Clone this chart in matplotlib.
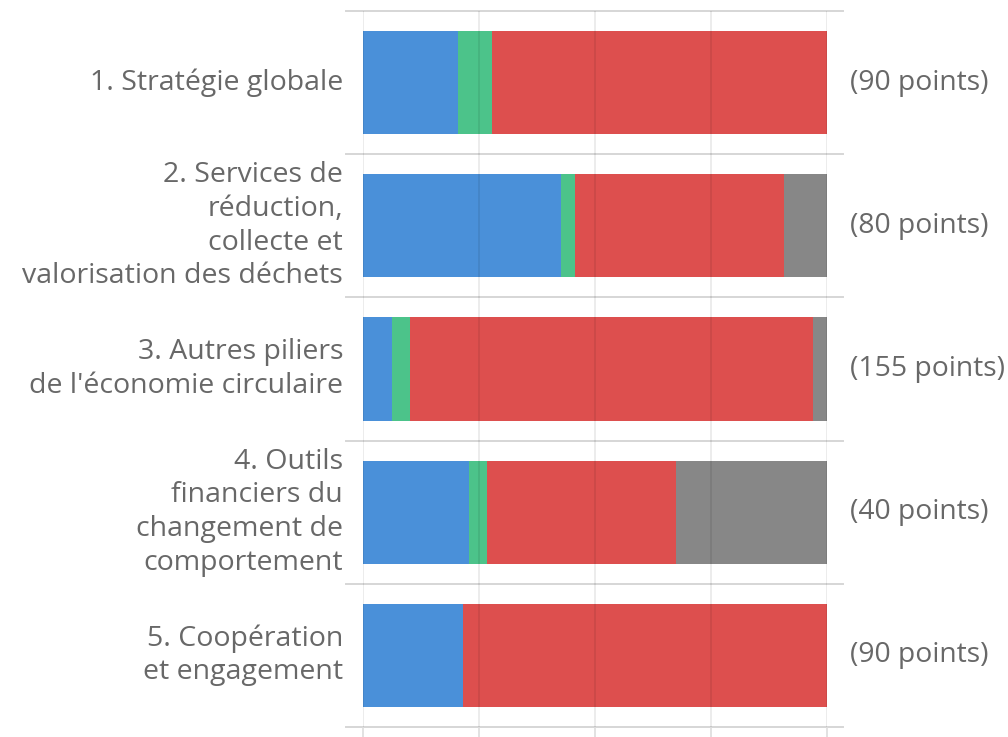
import matplotlib
matplotlib.use("Agg")
import matplotlib.pyplot as plt
from matplotlib.lines import Line2D
import numpy as np

categories = [
    "1. Stratégie globale",
    "2. Services de\nréduction,\ncollecte et\nvalorisation des déchets",
    "3. Autres piliers\nde l'économie circulaire",
    "4. Outils\nfinanciers du\nchangement de\ncomportement",
    "5. Coopération\net engagement",
]
points_labels = ["(90 points)", "(80 points)", "(155 points)", "(40 points)", "(90 points)"]

blue_vals = [20.5, 42.7, 6.3, 23.0, 21.7]
green_vals = [7.4, 3.1, 3.9, 3.8, 0.0]
red_vals = [72.1, 45.0, 86.8, 40.7, 78.3]
gray_vals = [0.0, 9.2, 3.0, 32.5, 0.0]

series = [blue_vals, green_vals, red_vals, gray_vals]
colors = ["#4A90D9", "#4CC38A", "#DD4F4E", "#878787"]

plt.rcParams['font.family'] = ['Open Sans', 'DejaVu Sans']

fig = plt.figure(figsize=(10.08, 7.37), dpi=100)
ax = fig.add_axes([362.7 / 1008, 1 - 727 / 737, 464 / 1008, 716 / 737])

y = np.arange(len(categories))
left = np.zeros(len(categories))
for vals, c in zip(series, colors):
    vals = np.array(vals)
    ax.barh(y, vals, left=left, height=0.72, color=c, zorder=2, linewidth=0)
    left += vals

ax.set_xlim(0, 100)
ax.set_ylim(len(categories) - 0.5, -0.5)

ax.set_xticks([0, 25, 50, 75, 100])
ax.set_xticklabels([])
ax.set_yticks([])
ax.xaxis.grid(True, color="#000000", alpha=0.09, linewidth=1.2, zorder=3)
ax.set_axisbelow(False)
ax.tick_params(axis='x', length=7.5, width=1.2, color="#dddddd", direction='out')
for s in ax.spines.values():
    s.set_visible(False)

# Category separators extending beyond the plot
for b in np.arange(-0.5, len(categories), 1.0):
    ln = Line2D([-0.035, 1.035], [b, b], transform=ax.get_yaxis_transform(),
                color="#d6d6d6", linewidth=1.4, clip_on=False, zorder=1)
    ax.add_line(ln)

text_color = "#686868"
for i, cat in enumerate(categories):
    ax.text(-0.042, i, cat, transform=ax.get_yaxis_transform(), ha='right', va='center',
            fontsize=20.5, color=text_color, linespacing=1.27)
    ax.text(1.05, i, points_labels[i], transform=ax.get_yaxis_transform(), ha='left',
            va='center', fontsize=20.3, color=text_color)

fig.savefig("out.png", dpi=100)
